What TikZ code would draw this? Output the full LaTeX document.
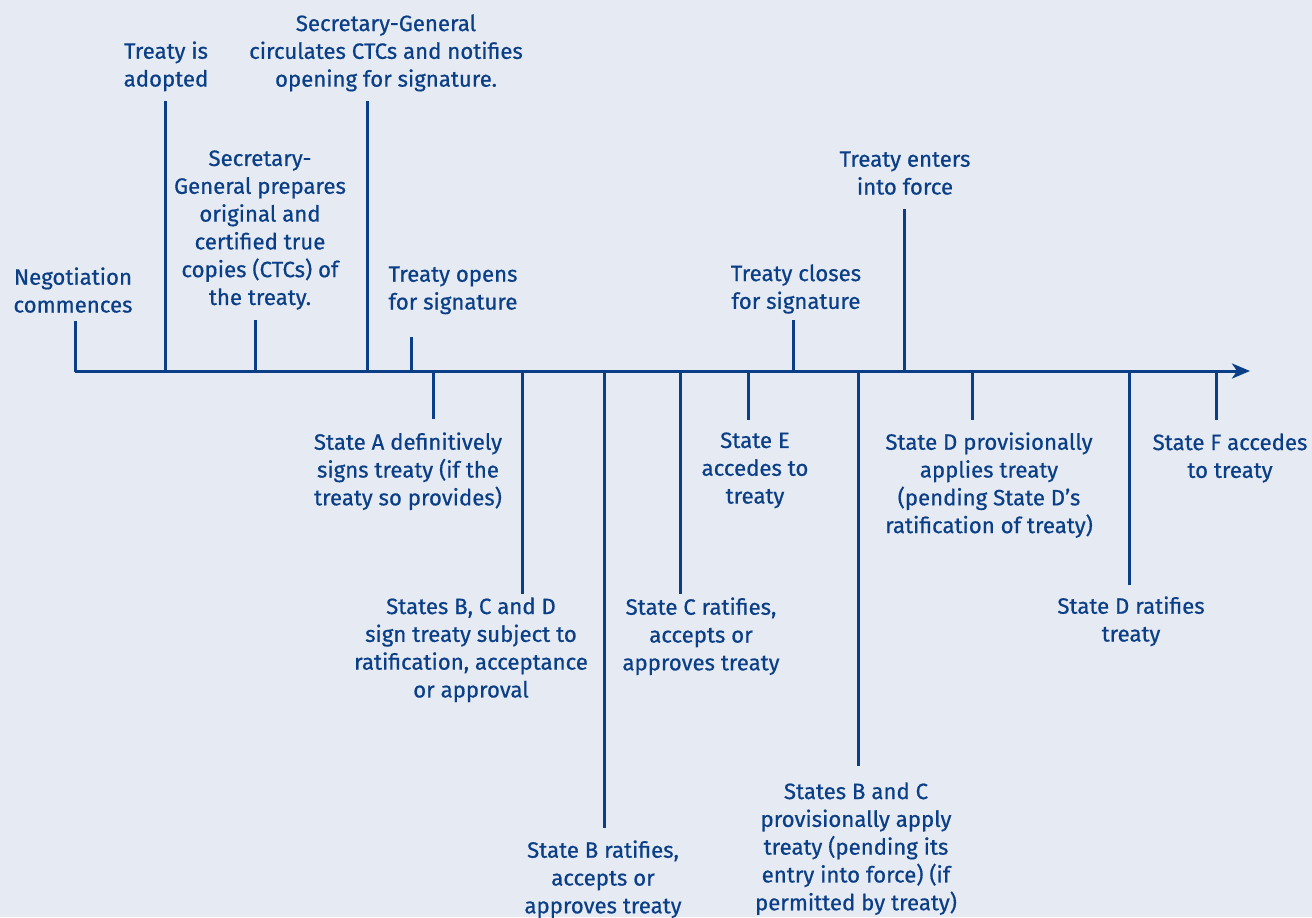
\documentclass[tikz,border=0pt]{standalone}
\usepackage{fontspec}
\setmainfont{Fira Sans}[FakeBold=0.6]
\usetikzlibrary{arrows.meta}
\definecolor{tblue}{RGB}{10,62,135}
\definecolor{tbg}{RGB}{230,235,243}
\tikzset{
  lbl/.style={font=\fontsize{11.1}{13.9}\selectfont, text=tblue, align=center, inner sep=0pt, anchor=north},
  tick/.style={draw=tblue, line width=1.5pt},
  axis/.style={draw=tblue, line width=1.5pt, -{Stealth[length=9pt,width=7.5pt,inset=2.5pt]}}
}
\begin{document}
\begin{tikzpicture}[x=0.5pt,y=-0.5pt]
\fill[tbg] (0,0) rectangle (1312,917);
\useasboundingbox (0,0) rectangle (1312,917);
% axis
\coordinate (start) at (75,371);
\coordinate (end) at (1250,371);
\draw[axis] (start) -- (end);
% labels above
\node[lbl] (n1) at (73,267) {Negotiation\\commences};
\node[lbl] (n2) at (166,41) {Treaty is\\adopted};
\node[lbl] (n3) at (260,150) {Secretary-\\General prepares\\original and\\certified true\\copies (CTCs) of\\the treaty.};
\node[lbl] (n4) at (386,14) {Secretary-General\\circulates CTCs and notifies\\opening for signature.};
\node[lbl] (n5) at (453,266) {Treaty opens\\for signature};
\node[lbl] (n6) at (796,264) {Treaty closes\\for signature};
\node[lbl] (n7) at (905,151) {Treaty enters\\into force};
% labels below
\node[lbl] (s1) at (408,432) {State A definitively\\signs treaty (if the\\treaty so provides)};
\node[lbl] (s2) at (471,597) {States B, C and D\\sign treaty subject to\\ratification, acceptance\\or approval};
\node[lbl] (s3) at (603,840) {State B ratifies,\\accepts or\\approves treaty};
\node[lbl] (s4) at (701,597) {State C ratifies,\\accepts or\\approves treaty};
\node[lbl] (s5) at (755,432) {State E\\accedes to\\treaty};
\node[lbl] (s6) at (856,782) {States B and C\\provisionally apply\\treaty (pending its\\entry into force) (if\\permitted by treaty)};
\node[lbl] (s7) at (989,432) {State D provisionally\\applies treaty\\(pending State D’s\\ratification of treaty)};
\node[lbl] (s8) at (1131,596) {State D ratifies\\treaty};
\node[lbl] (s9) at (1230,433) {State F accedes\\to treaty};
% ticks above
\coordinate (a1) at (75,372);  \coordinate (e1) at (75,321);
\coordinate (a2) at (165,371); \coordinate (e2) at (165,101);
\coordinate (a3) at (255,371); \coordinate (e3) at (255,320);
\coordinate (a4) at (367,371); \coordinate (e4) at (367,101);
\coordinate (a5) at (411,371); \coordinate (e5) at (411,337);
\coordinate (a6) at (793,371); \coordinate (e6) at (793,320);
\coordinate (a7) at (904,371); \coordinate (e7) at (904,209);
\draw[tick] (a1) -- (e1);
\draw[tick] (a2) -- (e2);
\draw[tick] (a3) -- (e3);
\draw[tick] (a4) -- (e4);
\draw[tick] (a5) -- (e5);
\draw[tick] (a6) -- (e6);
\draw[tick] (a7) -- (e7);
% ticks below
\coordinate (b1) at (433,371);  \coordinate (f1) at (433,419);
\coordinate (b2) at (522,371);  \coordinate (f2) at (522,594);
\coordinate (b3) at (604,371);  \coordinate (f3) at (604,828);
\coordinate (b4) at (680,371);  \coordinate (f4) at (680,594);
\coordinate (b5) at (748,371);  \coordinate (f5) at (748,420);
\coordinate (b6) at (858,371);  \coordinate (f6) at (858,766);
\coordinate (b7) at (972,371);  \coordinate (f7) at (972,420);
\coordinate (b8) at (1129,371); \coordinate (f8) at (1129,585);
\coordinate (b9) at (1216,371); \coordinate (f9) at (1216,420);
\draw[tick] (b1) -- (f1);
\draw[tick] (b2) -- (f2);
\draw[tick] (b3) -- (f3);
\draw[tick] (b4) -- (f4);
\draw[tick] (b5) -- (f5);
\draw[tick] (b6) -- (f6);
\draw[tick] (b7) -- (f7);
\draw[tick] (b8) -- (f8);
\draw[tick] (b9) -- (f9);
\end{tikzpicture}
\end{document}
